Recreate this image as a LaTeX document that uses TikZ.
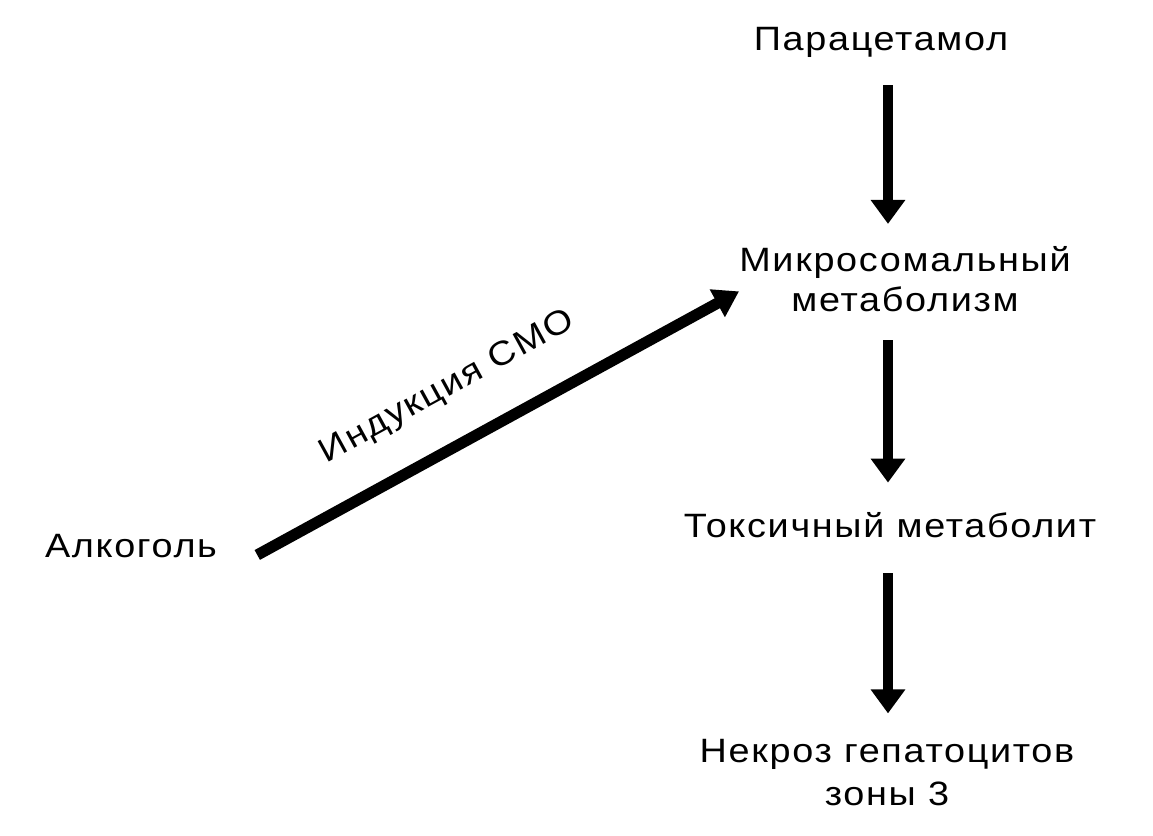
\documentclass[tikz,border=0pt]{standalone}
\usepackage{fontspec}
\setmainfont[LetterSpace=5,FakeStretch=1.12]{Liberation Sans}
\usetikzlibrary{arrows.meta,positioning}

\begin{document}
\begin{tikzpicture}[x=0.025cm,y=-0.025cm,
    word/.style={inner sep=0pt,align=center,
                 font=\fontsize{24pt}{28pt}\selectfont},
    line/.style={word,text height=18pt,text depth=6pt},
    down/.style={line width=0.25cm,-{Triangle[length=0.6cm,width=0.83cm]},
                 shorten <=0.56cm,shorten >=0.56cm},
    push/.style={line width=0.28cm,-{Triangle[length=0.62cm,width=0.75cm]}}]
    \useasboundingbox (0,0) rectangle (1153,836);
            \node[line,anchor=base] (Para)  at (881,50)  {Парацетамол};
            \node[word,anchor=base] (Mikro) at (905,311) {Микросомальный\\метаболизм};
            \node[line,anchor=base] (Tox)   at (890,537) {Токсичный метаболит};
            \node[word,anchor=base] (Nekr)  at (887,805) {Некроз гепатоцитов\\[2.5pt]зоны 3};
            \node[line,anchor=base] (Alk)   at (131,557) {Алкоголь};
            \coordinate (axis) at (888,0);
            \draw[down,shorten <=0.66cm] (Para.south -| axis) -- (Mikro.north -| axis);
            \draw[down,shorten <=0.72cm,shorten >=0.72cm] (Mikro.south -| axis) -- (Tox.north -| axis);
            \draw[down,shorten <=0.69cm,shorten >=0.63cm] (Tox.south -| axis) -- (Nekr.north -| axis);
            \draw[push] ([xshift=1cm,yshift=-0.16cm]Alk.east) -- ([yshift=-0.31cm]Mikro.west)
                node[line,pos=0.45,sloped,above=0.83cm] (Ind) {Индукция СМО};
        \end{tikzpicture}
\end{document}
